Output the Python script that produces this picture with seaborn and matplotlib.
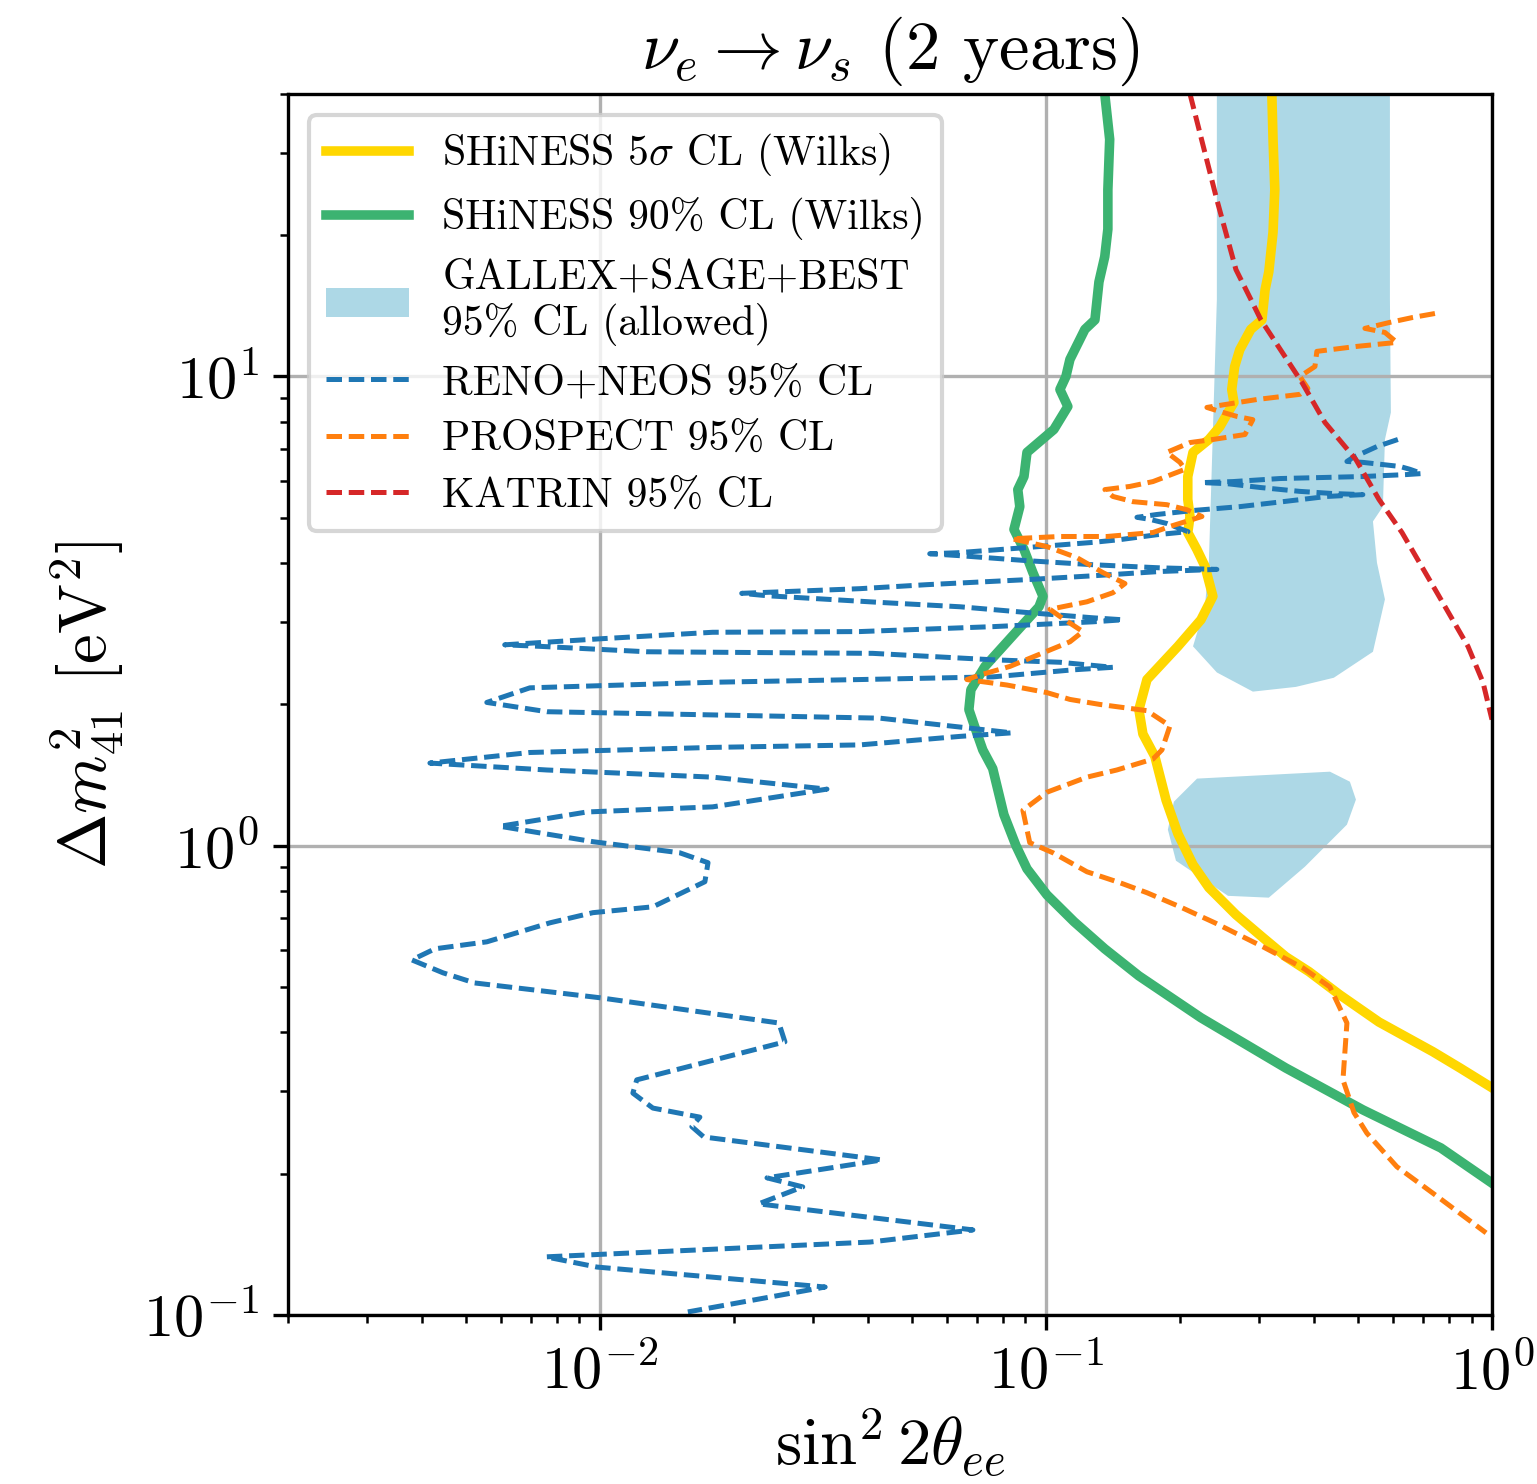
import matplotlib
matplotlib.use("Agg")
import matplotlib.pyplot as plt
import seaborn as sns

# SHiNESS sensitivity contours (sin^2 2theta_ee, dm^2_41 [eV^2])
gold_x = [0.321, 0.323, 0.326, 0.323, 0.316, 0.31, 0.305, 0.288, 0.272, 0.265, 0.261, 0.264, 0.256, 0.2455,
          0.232, 0.2137, 0.208, 0.208, 0.2104, 0.208, 0.218, 0.2273, 0.2368, 0.2226, 0.1977, 0.1685, 0.1616,
          0.165, 0.1755, 0.186, 0.1977, 0.2137, 0.232, 0.2667, 0.3066, 0.345, 0.389, 0.456, 0.558, 0.737, 0.848, 1.0]
gold_y = [40, 32, 25, 20.3, 16.7, 15.3, 13.2, 12.6, 11.4, 10.5, 9.38, 8.80, 8.38, 7.82,
          7.34, 6.89, 6.12, 5.47, 5.03, 4.65, 4.28, 3.94, 3.40, 3.03, 2.66, 2.26, 1.95,
          1.73, 1.55, 1.25, 1.06, 0.911, 0.814, 0.713, 0.637, 0.580, 0.539, 0.481, 0.421, 0.364, 0.336, 0.305]

green_x = [0.1355, 0.139, 0.1377, 0.1377, 0.1355, 0.1315, 0.1288, 0.1223, 0.1132, 0.1109, 0.1075, 0.112,
           0.1042, 0.0907, 0.0893, 0.0865, 0.0874, 0.0848, 0.0893, 0.0935, 0.0985, 0.0965, 0.0839, 0.0730,
           0.0679, 0.0672, 0.070, 0.0722, 0.076, 0.0805, 0.0857, 0.0907, 0.1005, 0.1156, 0.1355, 0.1616,
           0.2226, 0.345, 0.514, 0.768, 1.0]
green_y = [40, 32, 25, 20.6, 18, 15.9, 13.2, 12.6, 10.87, 10.0, 9.38, 8.63,
           7.71, 6.89, 6.12, 5.74, 5.28, 4.72, 4.28, 3.82, 3.40, 3.23, 2.79, 2.41,
           2.15, 1.95, 1.74, 1.60, 1.46, 1.165, 1.0, 0.893, 0.786, 0.689, 0.603, 0.528,
           0.430, 0.336, 0.2735, 0.227, 0.191]

# gallium anomaly allowed region (two islands)
gsb_hi_x = [0.2417, 0.5905, 0.5905, 0.5935, 0.5755, 0.5695, 0.541, 0.5523, 0.5755, 0.541, 0.442, 0.3634,
            0.2911, 0.2417, 0.2137, 0.2273, 0.232, 0.2344, 0.2417]
gsb_hi_y = [40, 40, 14.6, 8.38, 7.34, 5.28, 4.91, 4.01, 3.35, 2.59, 2.28, 2.18,
            2.13, 2.34, 2.66, 3.23, 4.07, 5.55, 14.6]
gsb_lo_x = [0.2182, 0.4333, 0.4803, 0.4955, 0.473, 0.3807, 0.316, 0.256, 0.1957, 0.1877, 0.1936]
gsb_lo_y = [1.39, 1.438, 1.369, 1.254, 1.109, 0.902, 0.775, 0.782, 0.929, 1.082, 1.241]

reno_x = [0.6153, 0.5523, 0.488, 0.473, 0.5136, 0.6217, 0.655, 0.6966, 0.6448, 0.5136, 0.3347, 0.2626,
          0.2238, 0.2545, 0.302, 0.371, 0.44, 0.5136, 0.4266, 0.3399, 0.2723, 0.2137, 0.1774, 0.16,
          0.171, 0.1867, 0.2082, 0.1774, 0.1465, 0.1274, 0.0907, 0.0632, 0.0549, 0.0642, 0.0907, 0.1274,
          0.180, 0.2417, 0.180, 0.1274, 0.0907, 0.0541, 0.0383, 0.0208, 0.0237, 0.0424, 0.0642, 0.0907,
          0.1274, 0.1488, 0.1274, 0.0761, 0.0383, 0.0179, 0.01, 0.00612, 0.00734, 0.01275, 0.0409, 0.0761,
          0.1075, 0.1413, 0.1149, 0.0761, 0.0383, 0.0179, 0.00697, 0.00558, 0.00761, 0.0179, 0.0424, 0.0642,
          0.0839, 0.0642, 0.0383, 0.0179, 0.00697, 0.00416, 0.00761, 0.0179, 0.0323, 0.0179, 0.00935, 0.00597,
          0.00965, 0.0151, 0.01748, 0.0172, 0.01315, 0.00965, 0.00773, 0.00558, 0.00427, 0.00379, 0.00445,
          0.00524, 0.01005, 0.0252, 0.026, 0.0121, 0.01186, 0.01315, 0.01676, 0.01608, 0.0171, 0.0429,
          0.0237, 0.0285, 0.0227, 0.0686, 0.0403, 0.00757, 0.00985, 0.032, 0.01575]
reno_y = [7.34, 7.09, 6.72, 6.59, 6.56, 6.43, 6.34, 6.21, 6.18, 6.12, 6.06, 5.97,
          5.94, 5.91, 5.80, 5.69, 5.63, 5.60, 5.55, 5.41, 5.28, 5.18, 5.08, 5.01,
          4.96, 4.86, 4.67, 4.60, 4.49, 4.43, 4.32, 4.21, 4.19, 4.15, 4.05, 3.97,
          3.91, 3.88, 3.84, 3.76, 3.69, 3.60, 3.53, 3.45, 3.41, 3.30, 3.23, 3.14,
          3.06, 3.03, 3.00, 2.93, 2.86, 2.85, 2.76, 2.68, 2.66, 2.59, 2.57, 2.49,
          2.46, 2.40, 2.37, 2.29, 2.26, 2.23, 2.17, 2.02, 1.93, 1.90, 1.87, 1.79,
          1.74, 1.71, 1.64, 1.62, 1.58, 1.50, 1.45, 1.40, 1.32, 1.21, 1.18, 1.10,
          1.02, 0.966, 0.92, 0.838, 0.741, 0.72, 0.685, 0.624, 0.603, 0.571, 0.536,
          0.51, 0.474, 0.419, 0.382, 0.317, 0.297, 0.276, 0.264, 0.252, 0.2395, 0.214,
          0.196, 0.1875, 0.1725, 0.1518, 0.143, 0.133, 0.1265, 0.1147, 0.1015]

prospect_x = [0.745, 0.665, 0.5905, 0.519, 0.5755, 0.612, 0.498, 0.405, 0.401, 0.371,
              0.3866, 0.371, 0.297, 0.2296, 0.2455, 0.268, 0.291, 0.2794, 0.2368, 0.2104,
              0.1867, 0.1998, 0.205, 0.1738, 0.1543, 0.1356, 0.1413, 0.1567, 0.1867, 0.207,
              0.2238, 0.1897, 0.1738, 0.137, 0.1075, 0.0839, 0.1005, 0.1174, 0.1342, 0.1504,
              0.1413, 0.1236, 0.1021, 0.1075, 0.121, 0.1132, 0.0969, 0.083, 0.0711, 0.0665,
              0.0818, 0.1005, 0.1132, 0.1322, 0.1685, 0.1897, 0.182, 0.1738, 0.1442, 0.1236,
              0.1005, 0.0888, 0.092, 0.1037, 0.1236, 0.1465, 0.1685, 0.1998, 0.2392, 0.3066,
              0.377, 0.4333, 0.473, 0.4634, 0.4905, 0.5244, 0.612, 0.7565, 0.97]
prospect_y = [13.62, 13.36, 13.04, 12.66, 12.41, 11.82, 11.59, 11.31, 10.5, 10.0,
              9.43, 9.16, 8.93, 8.59, 8.42, 8.22, 8.09, 7.52, 7.34, 7.23,
              6.89, 6.56, 6.34, 5.97, 5.83, 5.74, 5.55, 5.41, 5.33, 5.20,
              5.03, 4.79, 4.65, 4.56, 4.56, 4.51, 4.34, 4.11, 3.82, 3.62,
              3.46, 3.31, 3.19, 3.08, 2.86, 2.72, 2.56, 2.41, 2.31, 2.26,
              2.20, 2.12, 2.05, 2.00, 1.94, 1.80, 1.60, 1.53, 1.45, 1.40,
              1.30, 1.19, 1.015, 0.966, 0.88, 0.834, 0.794, 0.741, 0.685, 0.609,
              0.549, 0.50, 0.419, 0.317, 0.27, 0.244, 0.207, 0.1785, 0.1496]

katrin_x = [0.2104, 0.2417, 0.2667, 0.288, 0.3034, 0.375, 0.4222, 0.4955, 0.558, 0.6284, 0.753, 0.8835, 0.9546, 1.0]
katrin_y = [40, 23.8, 16.9, 14.6, 13.2, 9.71, 7.98, 6.65, 5.47, 4.65, 3.46, 2.66, 2.23, 1.857]

plt.rcParams.update({
    "font.family": "serif",
    "font.serif": ["cmr10"],
    "mathtext.fontset": "cm",
    "axes.unicode_minus": False,
    "axes.formatter.use_mathtext": True,
})

fig = plt.figure(figsize=(1537 / 300, 1484 / 300), dpi=300)
ax = fig.add_axes([0.1874, 0.1139, 0.7833, 0.8228])
ax.set_xscale("log")
ax.set_yscale("log")

dash = (0, (3.1, 1.35))
sns.lineplot(x=gold_x, y=gold_y, sort=False, estimator=None, color="gold", lw=2.3,
             label=r"SHiNESS 5$\sigma$ CL (Wilks)", ax=ax)
sns.lineplot(x=green_x, y=green_y, sort=False, estimator=None, color="mediumseagreen", lw=2.3,
             label="SHiNESS 90% CL (Wilks)", ax=ax)
ax.fill(gsb_hi_x, gsb_hi_y, color="lightblue", lw=0, label="GALLEX+SAGE+BEST\n95% CL (allowed)")
ax.fill(gsb_lo_x, gsb_lo_y, color="lightblue", lw=0)
sns.lineplot(x=reno_x, y=reno_y, sort=False, estimator=None, color="tab:blue", lw=1.2, linestyle=dash,
             label="RENO+NEOS 95% CL", ax=ax)
sns.lineplot(x=prospect_x, y=prospect_y, sort=False, estimator=None, color="tab:orange", lw=1.2,
             linestyle=dash, label="PROSPECT 95% CL", ax=ax)
sns.lineplot(x=katrin_x, y=katrin_y, sort=False, estimator=None, color="tab:red", lw=1.2, linestyle=dash,
             label="KATRIN 95% CL", ax=ax)

ax.set_xlim(0.002, 1)
ax.set_ylim(0.1, 40)
ax.grid(True, which="major")
ax.tick_params(labelsize=14.5)
ax.set_xlabel(r"$\sin^2 2\theta_{ee}$", fontsize=16, labelpad=1)
ax.set_ylabel(r"$\Delta m^2_{41}$ [eV$^2$]", fontsize=16)
ax.set_title(r"$\nu_e \rightarrow \nu_s$ (2 years)", fontsize=16.5)
ax.legend(loc="upper left", fontsize=10, labelspacing=0.45)

fig.savefig("out.png", dpi=300)
